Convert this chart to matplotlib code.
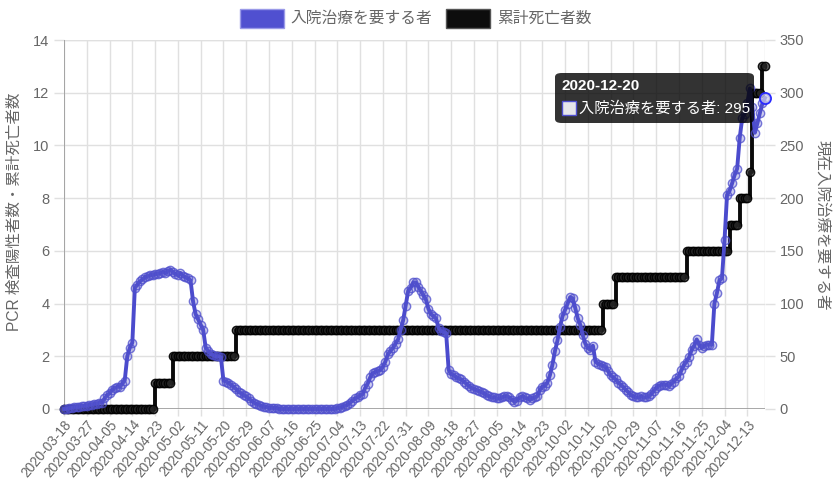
import numpy as np
import pandas as pd
import matplotlib
matplotlib.use('Agg')
import matplotlib.pyplot as plt
from matplotlib.patches import Rectangle, FancyBboxPatch

plt.rcParams['font.family'] = ['Liberation Sans', 'Noto Sans CJK JP', 'DejaVu Sans']

# daily dates 2020-03-18 .. 2020-12-20
dates = pd.date_range('2020-03-18', '2020-12-20', freq='D')

# 現在入院治療を要する者 (right axis), one value per day
hosp = [
    0, 0, 1, 1, 2, 2, 2, 3, 3, 3,
    4, 4, 5, 5, 6, 6, 10, 13, 15, 18,
    20, 21, 21, 24, 27, 50, 58, 63, 115, 118,
    121, 123, 125, 126, 127, 127, 128, 128, 129, 130,
    129, 131, 132, 130, 128, 127, 129, 126, 125, 124,
    122, 102, 90, 85, 80, 75, 58, 55, 52, 51,
    50, 50, 49, 27, 26, 25, 23, 21, 19, 16,
    15, 13, 12, 10, 8, 6, 5, 4, 3, 2,
    2, 1, 1, 1, 1, 0, 0, 0, 0, 0,
    0, 0, 0, 0, 0, 0, 0, 0, 0, 0,
    0, 0, 0, 0, 0, 0, 0, 0, 1, 1,
    2, 3, 4, 6, 8, 10, 11, 13, 14, 20,
    24, 30, 34, 35, 36, 37, 40, 45, 52, 55,
    58, 62, 66, 75, 84, 98, 112, 115, 120, 120,
    116, 112, 108, 104, 95, 90, 88, 86, 77, 74,
    73, 72, 37, 33, 32, 30, 29, 28, 26, 24,
    22, 20, 19, 18, 17, 16, 15, 13, 12, 11,
    11, 10, 10, 11, 12, 12, 11, 9, 7, 8,
    11, 12, 11, 10, 9, 10, 11, 12, 18, 21,
    22, 25, 32, 42, 55, 65, 78, 88, 94, 100,
    106, 105, 96, 86, 80, 70, 62, 58, 56, 60,
    45, 43, 42, 41, 40, 36, 32, 30, 28, 25,
    23, 21, 18, 16, 13, 12, 11, 11, 12, 11,
    11, 12, 14, 17, 20, 22, 23, 23, 23, 22,
    24, 26, 29, 31, 37, 42, 45, 49, 56, 60,
    66, 61, 58, 60, 61, 61, 61, 100, 110, 122,
    124, 160, 203, 207, 214, 222, 228, 257, 276, 280,
    290, 304, 286, 262, 271, 281, 290, 295,
]

# 累計死亡者数 (left axis): date of each change and the new cumulative value
death_change_dates = ['2020-03-18', '2020-04-23', '2020-04-30', '2020-05-25',
                      '2020-10-17', '2020-10-22', '2020-11-19', '2020-12-06',
                      '2020-12-10', '2020-12-14', '2020-12-15', '2020-12-19']
death_values = [0, 1, 2, 3, 4, 5, 6, 7, 8, 9, 12, 13]

deaths = (pd.Series(death_values, index=pd.to_datetime(death_change_dates))
          .reindex(dates).ffill())

x = np.arange(len(dates))
labels = [d.strftime('%Y-%m-%d') for d in dates]

W, H = 836, 487
fig = plt.figure(figsize=(W / 100, H / 100), dpi=100)
ax = fig.add_axes([64 / W, 1 - 409 / H, (765 - 64) / W, (409 - 40) / H])
ax2 = ax.twinx()

blue = '#4b4bcd'
grey = '#666666'
gridc = '#e0e0e0'

ax.plot(x, deaths.values, color='#0a0a0a', lw=2.8, drawstyle='steps-post',
        marker='o', ms=6, mfc=(0.15, 0.15, 0.15, 0.75), mec=(0, 0, 0, 0.9),
        mew=1, clip_on=False, zorder=3)
ax2.plot(x, hosp, color=blue, lw=2.8, marker='o', ms=6,
         mfc=(0.35, 0.35, 0.8, 0.3), mec=(0.3, 0.3, 0.8, 0.75), mew=1,
         clip_on=False, zorder=3)
# hovered point
ax2.plot(x[-1], hosp[-1], 'o', ms=8, mfc=(0.9, 0.9, 0.95, 0.6), mec='#2a2aff',
         mew=1.3, clip_on=False, zorder=4)

ax.set_xlim(0, len(x) - 1)
ax.set_ylim(0, 14)
ax2.set_ylim(0, 350)
ax.set_yticks(np.arange(0, 15, 2))
ax2.set_yticks(np.arange(0, 351, 50))

ticks = x[::9]
ax.set_xticks(ticks)
ax.set_xticklabels([labels[i] for i in ticks], rotation=50, ha='right',
                   rotation_mode='anchor')

ax.grid(True, color=gridc, lw=1)
ax.set_axisbelow(True)
for a in (ax, ax2):
    a.tick_params(colors=grey, labelsize=10.5, length=7, width=1)
    a.tick_params(axis='both', color=gridc)
    for s in a.spines.values():
        s.set_visible(False)
ax.tick_params(axis='x', pad=1, labelsize=9.8, length=5)
ax.axhline(0, color='#9a9a9a', lw=1.2, zorder=2)
ax.axvline(0, color='#9a9a9a', lw=1.2, zorder=2)
ax.axvline(len(x) - 1, color=gridc, lw=1, zorder=1)
ax.axhline(14, color=gridc, lw=1, zorder=1)

fig.text(14 / W, 1 - 212 / H, 'PCR 検査陽性者数・累計死亡者数', rotation=90,
         ha='center', va='center', color=grey, fontsize=11.2)
fig.text(822 / W, 1 - 225 / H, '現在入院治療を要する者', rotation=270,
         ha='center', va='center', color=grey, fontsize=11.2)

# legend
def px(xp, yp):
    return xp / W, 1 - yp / H

fig.patches.append(Rectangle(px(240, 28), 44 / W, 19 / H, transform=fig.transFigure,
                             facecolor='#5050d0', edgecolor='#9a9ae8', lw=1))
fig.text(*px(290, 18.5), '入院治療を要する者', color=grey, fontsize=11.3, va='center')
fig.patches.append(Rectangle(px(446, 28), 44 / W, 19 / H, transform=fig.transFigure,
                             facecolor='#0d0d0d', edgecolor='#555555', lw=1))
fig.text(*px(497, 18.5), '累計死亡者数', color=grey, fontsize=11.3, va='center')

# tooltip
fig.patches.append(FancyBboxPatch(px(555, 123), 199 / W, 50 / H,
                                  boxstyle='round,pad=0,rounding_size=0.008',
                                  transform=fig.transFigure,
                                  facecolor=(0, 0, 0, 0.8), edgecolor='none', zorder=10))
fig.text(*px(562, 86), '2020-12-20', color='white', fontsize=11, fontweight='bold',
         va='center', zorder=11)
fig.patches.append(Rectangle(px(562, 115), 14 / W, 14 / H, transform=fig.transFigure,
                             facecolor='#e6e6ea', edgecolor='#5050d0', lw=1, zorder=11))
fig.text(*px(579, 108), '入院治療を要する者: 295', color='white', fontsize=11,
         va='center', zorder=11)

fig.savefig('out.png', dpi=100)
